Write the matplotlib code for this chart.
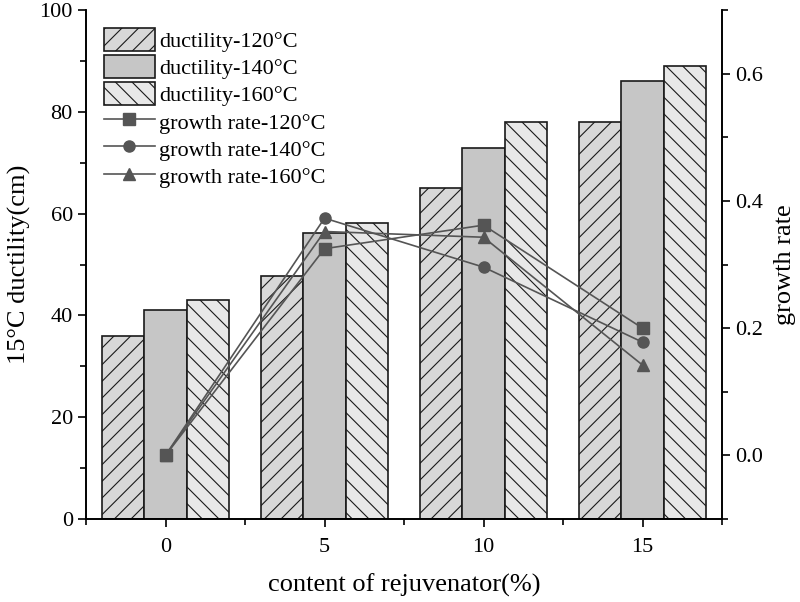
import matplotlib
matplotlib.use("Agg")
import matplotlib.pyplot as plt
from matplotlib.ticker import MultipleLocator
import numpy as np

# Données
contents = [0, 5, 10, 15]
ductility_120 = [36, 47.7, 65, 78]
ductility_140 = [41, 56.3, 73, 86]
ductility_160 = [43, 58.1, 78, 89]
growth_120 = [0.0, 0.325, 0.362, 0.200]
growth_140 = [0.0, 0.373, 0.296, 0.178]
growth_160 = [0.0, 0.352, 0.343, 0.142]
temps = ["120°C", "140°C", "160°C"]

plt.rcParams["font.family"] = ["Liberation Serif", "DejaVu Serif"]
plt.rcParams["hatch.linewidth"] = 0.8
plt.rcParams["hatch.color"] = "#222222"

fig = plt.figure(figsize=(8, 6.02), dpi=100)
ax = fig.add_axes([0.1075, 0.138, 0.795, 0.845])
ax2 = ax.twinx()

x = np.array(contents, dtype=float)
w = 4 / 3
bar_styles = [("#d8d8d8", "//"), ("#c6c6c6", ""), ("#e8e8e8", "\\\\")]
handles = []
for i, (vals, (col, hat)) in enumerate(zip([ductility_120, ductility_140, ductility_160], bar_styles)):
    b = ax.bar(x + (i - 1) * w, vals, width=w, color=col, hatch=hat,
               edgecolor="#1a1a1a", linewidth=1.2, label="ductility-" + temps[i], zorder=2)
    handles.append(b)

markers = ["s", "o", "^"]
for vals, m, t in zip([growth_120, growth_140, growth_160], markers, temps):
    l, = ax2.plot(x, vals, color="#555555", marker=m, markersize=8, linewidth=1.2,
                  label="growth rate-" + t, zorder=3)
    handles.append(l)

# Axes
ax.set_xlim(-2.5, 17.5)
ax.set_ylim(0, 100)
ax2.set_ylim(-0.1, 0.7)
ax.set_xticks(contents)
ax.xaxis.set_minor_locator(MultipleLocator(2.5))
ax.yaxis.set_major_locator(MultipleLocator(20))
ax.yaxis.set_minor_locator(MultipleLocator(10))
ax2.yaxis.set_minor_locator(MultipleLocator(0.1))
ax2.set_yticks([0.0, 0.2, 0.4, 0.6])
ax2.set_yticklabels(["0.0", "0.2", "0.4", "0.6"])

for a in (ax, ax2):
    a.spines["top"].set_visible(False)
    for s in a.spines.values():
        s.set_linewidth(1.2)
    a.tick_params(which="major", length=6, width=1.2, labelsize=16, direction="out")
    a.tick_params(which="minor", length=4, width=1.2, direction="out")
ax.tick_params(axis="x", pad=8)

ax.set_xlabel("content of rejuvenator(%)", fontsize=19, labelpad=12)
ax.set_ylabel("15°C ductility(cm)", fontsize=19, labelpad=6)
ax2.set_ylabel("growth rate", fontsize=19, labelpad=8)

ax.legend(handles=handles, loc="upper left", bbox_to_anchor=(0.0, 1.0), frameon=False,
          fontsize=16, handlelength=2.3, handleheight=1.2, labelspacing=0.15,
          handletextpad=0.2, borderpad=0.3)
ax2.set_zorder(ax.get_zorder() + 1)
ax2.patch.set_visible(False)

fig.savefig("out.png", dpi=100)
